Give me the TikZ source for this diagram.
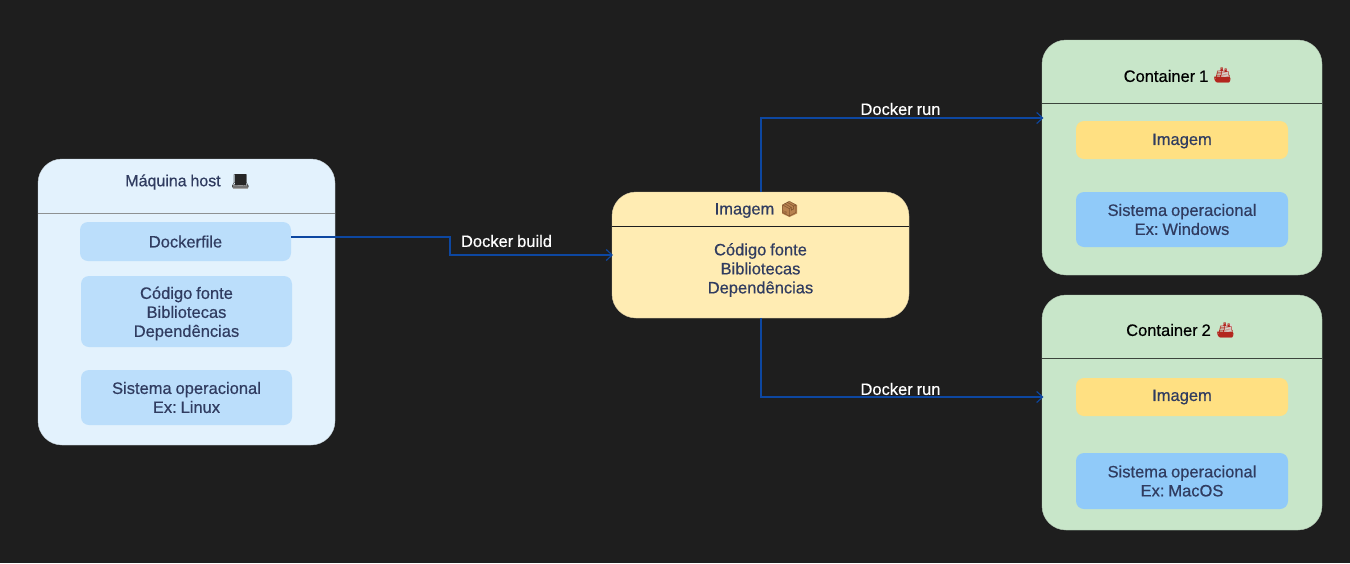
\documentclass[tikz,border=0pt]{standalone}
\usepackage{fontspec}
\setmainfont{Liberation Sans}[FakeBold=0.5,WordSpace=0.85]
\newfontfamily\emojifont{Noto Emoji}
\usetikzlibrary{arrows.meta}
\definecolor{bgdark}{HTML}{1E1E1E}
\definecolor{hostfill}{HTML}{E3F2FD}
\definecolor{lightblue}{HTML}{BBDEFB}
\definecolor{midblue}{HTML}{90CAF9}
\definecolor{imgfill}{HTML}{FFECB3}
\definecolor{amber}{HTML}{FFE082}
\definecolor{greenfill}{HTML}{C8E6C9}
\definecolor{ink}{HTML}{303C60}
\definecolor{wire}{HTML}{0D47A1}
\definecolor{boxbrown}{HTML}{B8824F}
\definecolor{boxdark}{HTML}{7A4F2A}
\definecolor{hullred}{HTML}{B3261E}
\definecolor{deckgrey}{HTML}{D8D8D0}
\tikzset{
  x=1pt,y=-1pt,
  panel/.style={rounded corners=24pt,inner sep=0pt,outer sep=0pt,draw=#1!70!gray,line width=.4pt},
  chip/.style={rounded corners=8pt,inner sep=0pt,outer sep=0pt,align=center,text=ink,font=\frenchspacing\fontsize{16.5}{19}\selectfont},
  caption/.style={inner sep=0pt,align=center,text=ink,font=\frenchspacing\fontsize{16.5}{19}\selectfont},
  wirelabel/.style={inner sep=0pt,text=white,font=\fontsize{16.5}{19}\selectfont},
  glyph/.style={inner sep=0pt,font=\emojifont\fontsize{15}{15}\selectfont},
  link/.style={draw=wire,line width=1.3pt,-{Straight Barb[length=6pt,width=11pt,line width=1.1pt]}},
  rule/.style={line width=1pt}
}
\begin{document}
\begin{tikzpicture}
\useasboundingbox (0,0) rectangle (1350,563);
\fill[bgdark] (0,0) rectangle (1350,563);

% Host panel
\node[panel=hostfill,fill=hostfill,minimum width=297pt,minimum height=286pt] (host) at (186.5,302) {};
\draw[rule,draw=gray!85!hostfill] (38,213) -- (335,213);
\node[caption,font=\fontsize{16}{19}\selectfont] (hosttitle) at (173,182) {Máquina host};
\fill[black!85] (235,174) rectangle (246,185);
\fill[gray!70] (233,185) rectangle (248,189);
\node[glyph,text=black!85] (hostemoji) at (240.5,181) {💻};
\node[chip,fill=lightblue,minimum width=211pt,minimum height=39pt,text depth=0pt] (dock) at (185.5,241.5) {Dockerfile};
\node[chip,fill=lightblue,minimum width=211pt,minimum height=71pt] (code) at (186.5,311.5) {};
\node[caption] (codetext) at (186.5,313.5) {Código fonte\\Bibliotecas\\Dependências};
\node[chip,fill=lightblue,minimum width=211pt,minimum height=55pt] (oslinux) at (186.5,397.5) {Sistema operacional\\Ex: Linux};

% Image panel
\node[panel=imgfill,fill=imgfill,minimum width=297pt,minimum height=126pt] (img) at (760.5,255) {};
\draw[rule,draw=bgdark] (612,226.5) -- (909,226.5);
\node[caption] (imgtitle) at (744.5,210.5) {Imagem};
\fill[boxbrown] (789.5,201.5) -- (797,205) -- (797,213.5) -- (789.5,217) -- (782,213.5) -- (782,205) -- cycle;
\node[glyph,text=boxdark] (imgemoji) at (789.5,209) {📦};
\node[caption] (imgbody) at (760.5,270) {Código fonte\\Bibliotecas\\Dependências};

% Container 1
\node[panel=greenfill,fill=greenfill,minimum width=280pt,minimum height=235pt] (cone) at (1182,157.5) {};
\draw[rule,draw=black!70!greenfill] (1042,103) -- (1322,103);
\node[caption,text=black] (conetitle) at (1166,76) {Container 1};
\fill[deckgrey] (1219,69) rectangle (1229,77);
\fill[hullred] (1215,77) -- (1230,77) -- (1229,82) -- (1217,82) -- cycle;
\node[glyph,text=hullred] (coneemoji) at (1222.5,75) {🚢};
\node[chip,fill=amber,minimum width=212pt,minimum height=38pt] (coneimg) at (1182,140) {};
\node[caption] (coneimgt) at (1182,141) {Imagem};
\node[chip,fill=midblue,minimum width=212pt,minimum height=55pt] (conesys) at (1182,219.5) {Sistema operacional\\Ex: Windows};

% Container 2
\node[panel=greenfill,fill=greenfill,minimum width=280pt,minimum height=235pt] (ctwo) at (1182,412.5) {};
\draw[rule,draw=black!70!greenfill] (1042,358.5) -- (1322,358.5);
\node[caption,text=black] (ctwotitle) at (1168.5,330) {Container 2};
\fill[deckgrey] (1222,324) rectangle (1232,332);
\fill[hullred] (1218,332) -- (1233,332) -- (1232,337) -- (1220,337) -- cycle;
\node[glyph,text=hullred] (ctwoemoji) at (1225.5,330) {🚢};
\node[chip,fill=amber,minimum width=212pt,minimum height=38pt] (ctwoimg) at (1182,397) {Imagem};
\node[chip,fill=midblue,minimum width=212pt,minimum height=56pt] (ctwosys) at (1182,481) {Sistema operacional\\Ex: MacOS};

% Connector bend points
\coordinate (bendb) at (450,237);
\coordinate (bendc) at (450,255);
\coordinate (upa) at (761,118);
\coordinate (downa) at (761,397);

\draw[link] (dock.east |- bendb) -- (bendb) -- (bendc) -- ([xshift=1pt]img.west |- bendc);
\draw[link] (img.north -| upa) -- (upa) -- ([xshift=1.5pt]cone.west |- upa);
\draw[link] (img.south -| downa) -- (downa) -- ([xshift=1.5pt]ctwo.west |- downa);

\node[wirelabel] (lbuild) at (506.5,241) {Docker build};
\node[wirelabel] (lruna) at (900.5,109) {Docker run};
\node[wirelabel] (lrunb) at (900.5,389) {Docker run};
\end{tikzpicture}
\end{document}
